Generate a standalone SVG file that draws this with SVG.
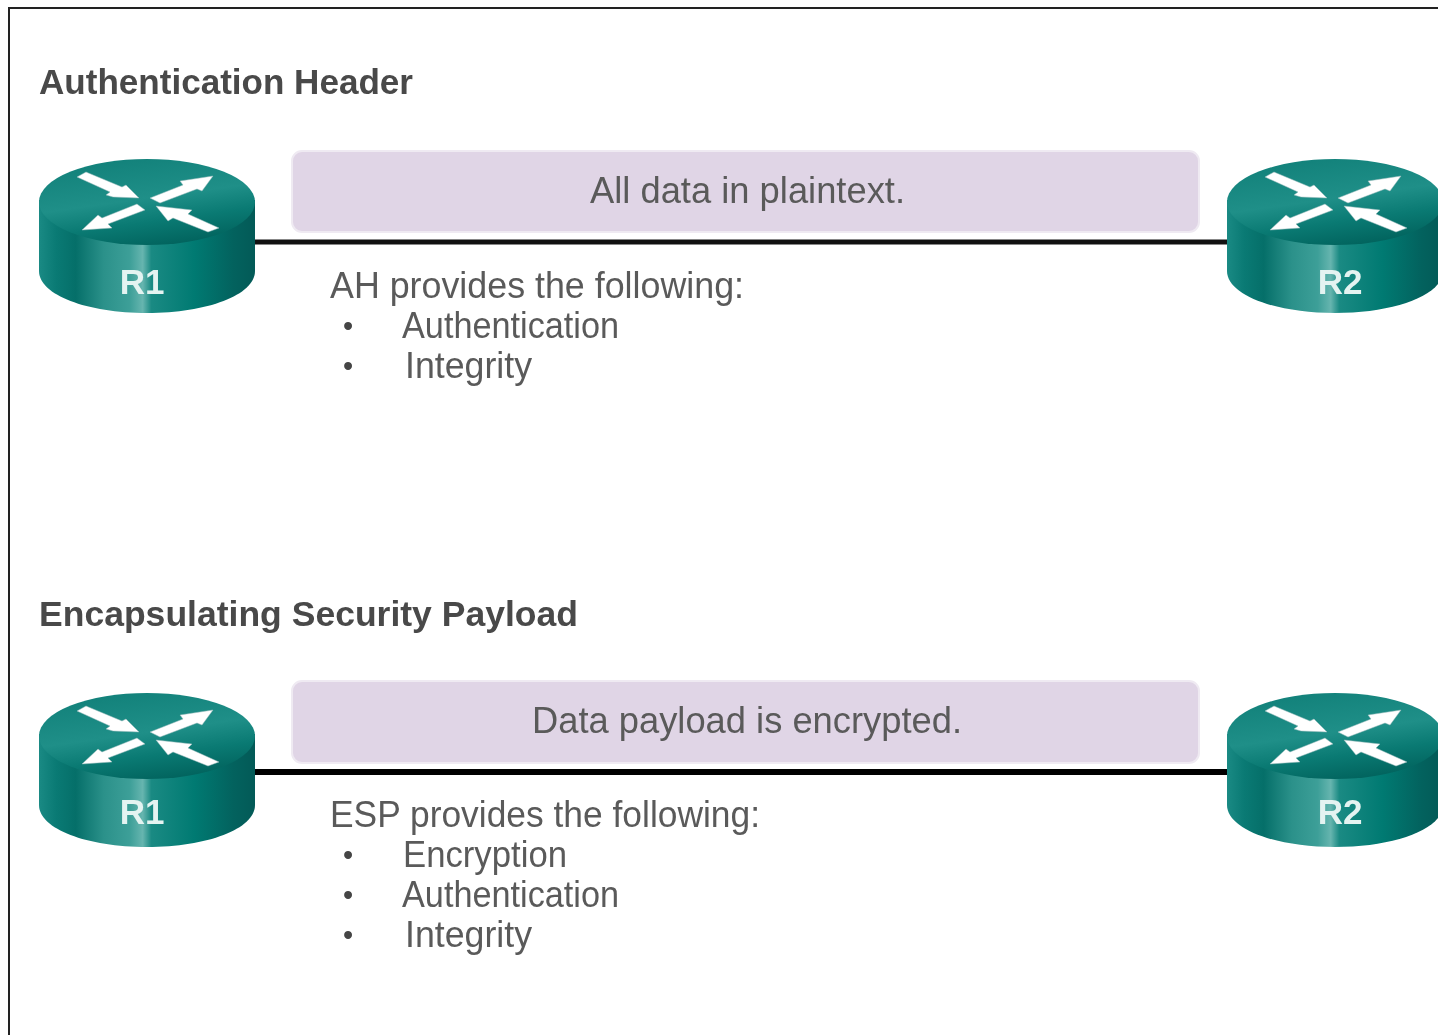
<svg xmlns="http://www.w3.org/2000/svg" width="1438" height="1035" viewBox="0 0 1438 1035">
<style>
.h{font:bold 35px "Liberation Sans",Arial,sans-serif;fill:#484848;filter:url(#soft)}
.t{font:36px "Liberation Sans",Arial,sans-serif;fill:#5a5a5a;filter:url(#soft)}
.b{font:29px "Liberation Sans",Arial,sans-serif;fill:#444;filter:url(#soft)}
.r{font:bold 35px "Liberation Sans",Arial,sans-serif;fill:#e4f3f1;text-anchor:middle;filter:url(#soft)}
.box{fill:#e0d5e6;stroke:#efeaf2;stroke-width:2}
.arrow{fill:#fff;stroke:#9bb;stroke-width:.5}
</style>
<defs>
<filter id="soft" x="-5%" y="-20%" width="110%" height="140%"><feGaussianBlur stdDeviation="0.45"/></filter>
<linearGradient id="side" x1="0" x2="1" y1="0" y2="0">
<stop offset="0" stop-color="#1a8a84"/>
<stop offset=".08" stop-color="#0a7a74"/>
<stop offset=".17" stop-color="#056f69"/>
<stop offset=".3" stop-color="#2b918a"/>
<stop offset=".42" stop-color="#3d9f98"/>
<stop offset=".48" stop-color="#66b5af"/>
<stop offset=".52" stop-color="#1a8a83"/>
<stop offset=".72" stop-color="#007a72"/>
<stop offset=".9" stop-color="#03625e"/>
<stop offset="1" stop-color="#035a57"/>
</linearGradient>
<linearGradient id="top" x1="0.2" x2="0.55" y1="0" y2="1">
<stop offset="0" stop-color="#118079"/>
<stop offset=".5" stop-color="#1f8f88"/>
<stop offset=".75" stop-color="#0a7a73"/>
<stop offset="1" stop-color="#02655f"/>
</linearGradient>
<g id="router">
<path d="M0 41V112C0 136 48 154 108 154S216 136 216 112V41Z" fill="url(#side)"/>
<ellipse cx="108" cy="43" rx="108" ry="43" fill="url(#top)"/>
<path class="arrow" d="M38 18 47 13 83 28 87 26 100 39 74 38 67 36 71 33Z"/>
<path class="arrow" d="M111 39 121 44 158 30 163 32 174 17 141 22 144 26Z"/>
<path class="arrow" d="M43 71 73 69 69 65 106 51 98 45 63 59 59 56Z"/>
<path class="arrow" d="M117 47 153 51 149 55 180 69 169 73 134 59 129 62Z"/>
</g>
</defs>
<rect width="1438" height="1035" fill="#fff"/>
<path d="M9 1035V8H1438" fill="none" stroke="#222" stroke-width="2"/>
<g id="connectors" stroke="#111">
<line x1="250" y1="242" x2="1232" y2="242" stroke-width="5"/>
<line x1="250" y1="772" x2="1232" y2="772" stroke-width="6" stroke="#000"/>
</g>
<g id="title-ah"><text class="h" x="39" y="94" textLength="374" lengthAdjust="spacingAndGlyphs">Authentication Header</text></g>
<g id="r1-top"><use href="#router" x="39" y="159"/><text class="r" x="142" y="294">R1</text></g>
<g id="r2-top"><use href="#router" x="1227" y="159"/><text class="r" x="1340" y="294">R2</text></g>
<g id="box-top"><rect class="box" x="292" y="151" width="907" height="81" rx="10"/><text class="t" x="590" y="203" textLength="315" lengthAdjust="spacingAndGlyphs">All data in plaintext.</text></g>
<g id="list-top">
<text class="t" x="330" y="298" textLength="414" lengthAdjust="spacingAndGlyphs">AH provides the following:</text>
<text class="b" x="343" y="336">•</text><text class="t" x="402" y="338" textLength="217" lengthAdjust="spacingAndGlyphs">Authentication</text>
<text class="b" x="343" y="376">•</text><text class="t" x="405" y="378" textLength="127" lengthAdjust="spacingAndGlyphs">Integrity</text>
</g>
<g id="title-esp"><text class="h" x="39" y="626" textLength="539" lengthAdjust="spacingAndGlyphs">Encapsulating Security Payload</text></g>
<g id="r1-bottom"><use href="#router" x="39" y="693"/><text class="r" x="142" y="824">R1</text></g>
<g id="r2-bottom"><use href="#router" x="1227" y="693"/><text class="r" x="1340" y="824">R2</text></g>
<g id="box-bottom"><rect class="box" x="292" y="681" width="907" height="82" rx="10"/><text class="t" x="532" y="733" textLength="430" lengthAdjust="spacingAndGlyphs">Data payload is encrypted.</text></g>
<g id="list-bottom">
<text class="t" x="330" y="827" textLength="430" lengthAdjust="spacingAndGlyphs">ESP provides the following:</text>
<text class="b" x="343" y="865">•</text><text class="t" x="403" y="867" textLength="164" lengthAdjust="spacingAndGlyphs">Encryption</text>
<text class="b" x="343" y="905">•</text><text class="t" x="402" y="907" textLength="217" lengthAdjust="spacingAndGlyphs">Authentication</text>
<text class="b" x="343" y="945">•</text><text class="t" x="405" y="947" textLength="127" lengthAdjust="spacingAndGlyphs">Integrity</text>
</g>
</svg>
